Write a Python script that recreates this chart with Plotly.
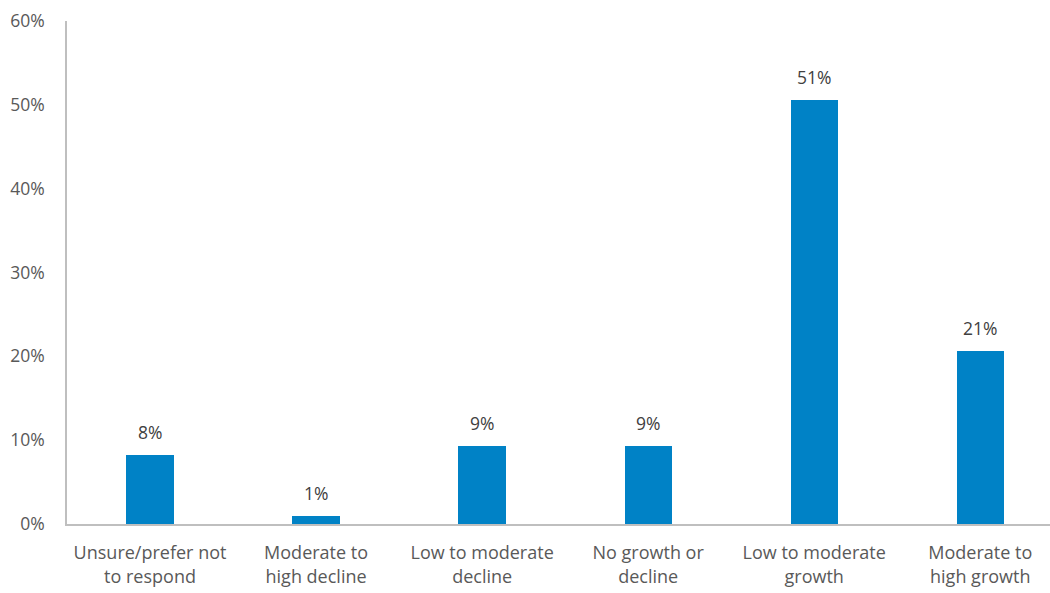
import plotly.graph_objects as go

categories = [
    "Unsure/prefer not<br>to respond",
    "Moderate to<br>high decline",
    "Low to moderate<br>decline",
    "No growth or<br>decline",
    "Low to moderate<br>growth",
    "Moderate to<br>high growth",
]
shares = [8.2, 1.0, 9.3, 9.3, 50.6, 20.6]
y_ticks = [0, 10, 20, 30, 40, 50, 60]
y_tick_labels = [f"{v}%" for v in y_ticks]

FONT = "Open Sans"
GRAY = "#595959"
SIZE = 18

x_pos = list(range(len(categories)))

fig = go.Figure(
    go.Bar(
        x=x_pos,
        y=shares,
        width=0.285,
        marker=dict(color="#0082C6", line=dict(width=0)),
    )
)

# value labels above each bar
for xi, v in zip(x_pos, shares):
    fig.add_annotation(
        x=xi,
        y=v,
        text=f"{round(v):.0f}%",
        showarrow=False,
        yanchor="bottom",
        yshift=9,
        font=dict(family=FONT, size=17.5, color="#404040"),
    )

fig.update_layout(
    width=1050,
    height=593,
    margin=dict(l=67, r=0, t=21, b=69),
    paper_bgcolor="white",
    plot_bgcolor="white",
    showlegend=False,
    font=dict(family=FONT, size=SIZE, color=GRAY),
    bargap=0,
)

fig.update_xaxes(
    range=[-0.5, 5.42],
    tickmode="array",
    tickvals=x_pos,
    ticktext=categories,
    showgrid=False,
    zeroline=False,
    showline=True,
    linecolor="#BFBFBF",
    linewidth=1.5,
    ticks="",
    ticklabelstandoff=12,
    tickfont=dict(family=FONT, size=SIZE, color=GRAY),
)

fig.update_yaxes(
    range=[0, 60],
    tickmode="array",
    tickvals=y_ticks,
    ticktext=y_tick_labels,
    showgrid=False,
    zeroline=False,
    showline=True,
    linecolor="#BFBFBF",
    linewidth=1.5,
    ticks="",
    ticklabelstandoff=17,
    tickfont=dict(family=FONT, size=17.5, color=GRAY),
)

fig.write_html("out.html")
